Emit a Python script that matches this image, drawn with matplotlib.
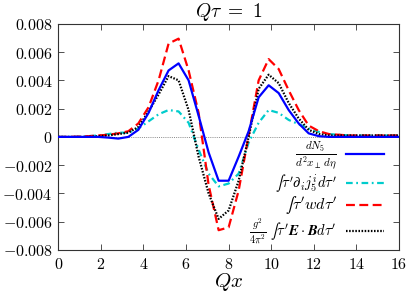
import matplotlib
matplotlib.use("Agg")
import matplotlib.pyplot as plt
from matplotlib.ticker import FuncFormatter

plt.rcParams['mathtext.fontset'] = 'cm'
plt.rcParams['font.family'] = ['DejaVu Serif']

x = [0.0, 0.47, 0.94, 1.41, 1.88, 2.35, 2.82, 3.29, 3.76, 4.24, 4.71, 5.18, 5.65,
     6.12, 6.59, 7.06, 7.53, 8.0, 8.47, 8.94, 9.41, 9.88, 10.35, 10.82, 11.29,
     11.76, 12.24, 12.71, 13.18, 13.65, 14.12, 14.59, 15.06, 15.53, 16.0]

dN5 = [0, 0, 0, 0, 0, -0.00005, -0.00012, 0.0, 0.0005, 0.0017, 0.0033, 0.0047, 0.0052,
       0.0040, 0.0015, -0.0011, -0.0031, -0.0031, -0.0014, 0.0004, 0.0028, 0.00365,
       0.0031, 0.0019, 0.00095, 0.00025, 0.00005, 0, 0, 0, 0, 0, 0, 0, 0]

div_j5 = [0, 0, 0, 0.00005, 0.0001, 0.0002, 0.0003, 0.0003, 0.0006, 0.0011, 0.0016,
          0.0019, 0.0018, 0.0010, -0.0009, -0.0026, -0.0035, -0.0033, -0.0026, -0.0004,
          0.0010, 0.0019, 0.0017, 0.0012, 0.0009, 0.0006, 0.00035, 0.0002, 0.00015,
          0.0001, 0.0001, 0.0001, 0.0001, 0.0001, 0.0001]

w_int = [0, 0, 0.00002, 0.00005, 0.0001, 0.00015, 0.00025, 0.0004, 0.00095, 0.0021,
         0.0040, 0.0066, 0.00695, 0.0047, 0.0017, -0.0034, -0.0066, -0.0064, -0.0038,
         0.0001, 0.0040, 0.0055, 0.0048, 0.0033, 0.0019, 0.0008, 0.0004, 0.0002,
         0.00015, 0.0001, 0.0001, 0.0001, 0.0001, 0.0001, 0.0001]

EB_int = [0, 0, 0, 0, 0.00005, 0.0001, 0.0002, 0.0003, 0.0007, 0.0018, 0.0030, 0.0043,
          0.0040, 0.0019, -0.0014, -0.0040, -0.0058, -0.0052, -0.0031, 0.0, 0.0034,
          0.0044, 0.0038, 0.0024, 0.0013, 0.0005, 0.0002, 0.0001, 0.0001, 0.0001,
          0.0001, 0.0001, 0.0001, 0.0001, 0.0001]

labels = [r'$\frac{dN_5}{d^2x_\perp\, d\eta}$',
          "$∫\\tau'\\partial_i j_5^i d\\tau'$",
          "$∫\\tau' w d\\tau'$",
          "$\\frac{g^2}{4\\pi^2}\\;∫\\tau'\\boldsymbol{E}\\cdot\\boldsymbol{B}d\\tau'$"]

xticks = [0, 2, 4, 6, 8, 10, 12, 14, 16]
yticks = [-0.008, -0.006, -0.004, -0.002, 0, 0.002, 0.004, 0.006, 0.008]

fig = plt.figure(figsize=(4.09, 2.93), dpi=100)
ax = fig.add_axes([0.1425, 0.1468, 0.833, 0.772])

ax.axhline(0, color='#888888', lw=0.7, ls=(0, (1, 1.2)), zorder=1)

ax.plot(x, dN5, color='#0000ff', lw=1.6, ls='-', label=labels[0], zorder=3)
ax.plot(x, div_j5, color='#00cccc', lw=1.6, ls=(0, (3, 1.6, 0.8, 1.6)), label=labels[1], zorder=2)
ax.plot(x, w_int, color='#ff0000', lw=1.6, ls=(0, (4, 2)), label=labels[2], zorder=2)
ax.plot(x, EB_int, color='#000000', lw=1.6, ls=(0, (0.7, 0.7)), label=labels[3], zorder=2)

ax.set_xlim(0, 16)
ax.set_ylim(-0.008, 0.008)
ax.set_xticks(xticks)
ax.set_yticks(yticks)

def fmt(v, pos):
    if abs(v) < 1e-12:
        return r'$0$'
    return r'$%.3f$' % v

ax.xaxis.set_major_formatter(FuncFormatter(lambda v, p: r'$%d$' % round(v)))
ax.yaxis.set_major_formatter(FuncFormatter(fmt))
ax.tick_params(direction='in', length=4, width=0.6, top=True, right=True,
               labelsize=11.5, pad=4, color='#333333')
for s in ax.spines.values():
    s.set_linewidth(0.8)
    s.set_color('#333333')

ax.set_title(r'$Q\tau\ =\ 1$', fontsize=14, pad=5)
ax.set_xlabel(r'$Qx$', fontsize=15, labelpad=-1)

leg = ax.legend(loc='lower right', bbox_to_anchor=(0.972, -0.01), frameon=False,
                markerfirst=False, fontsize=10.5, handlelength=2.6, handletextpad=0.6,
                labelspacing=-0.02, borderaxespad=0)
texts = leg.get_texts()
texts[0].set_fontsize(11.5)
texts[2].set_fontsize(11.5)

fig.savefig('out.png', dpi=100)
